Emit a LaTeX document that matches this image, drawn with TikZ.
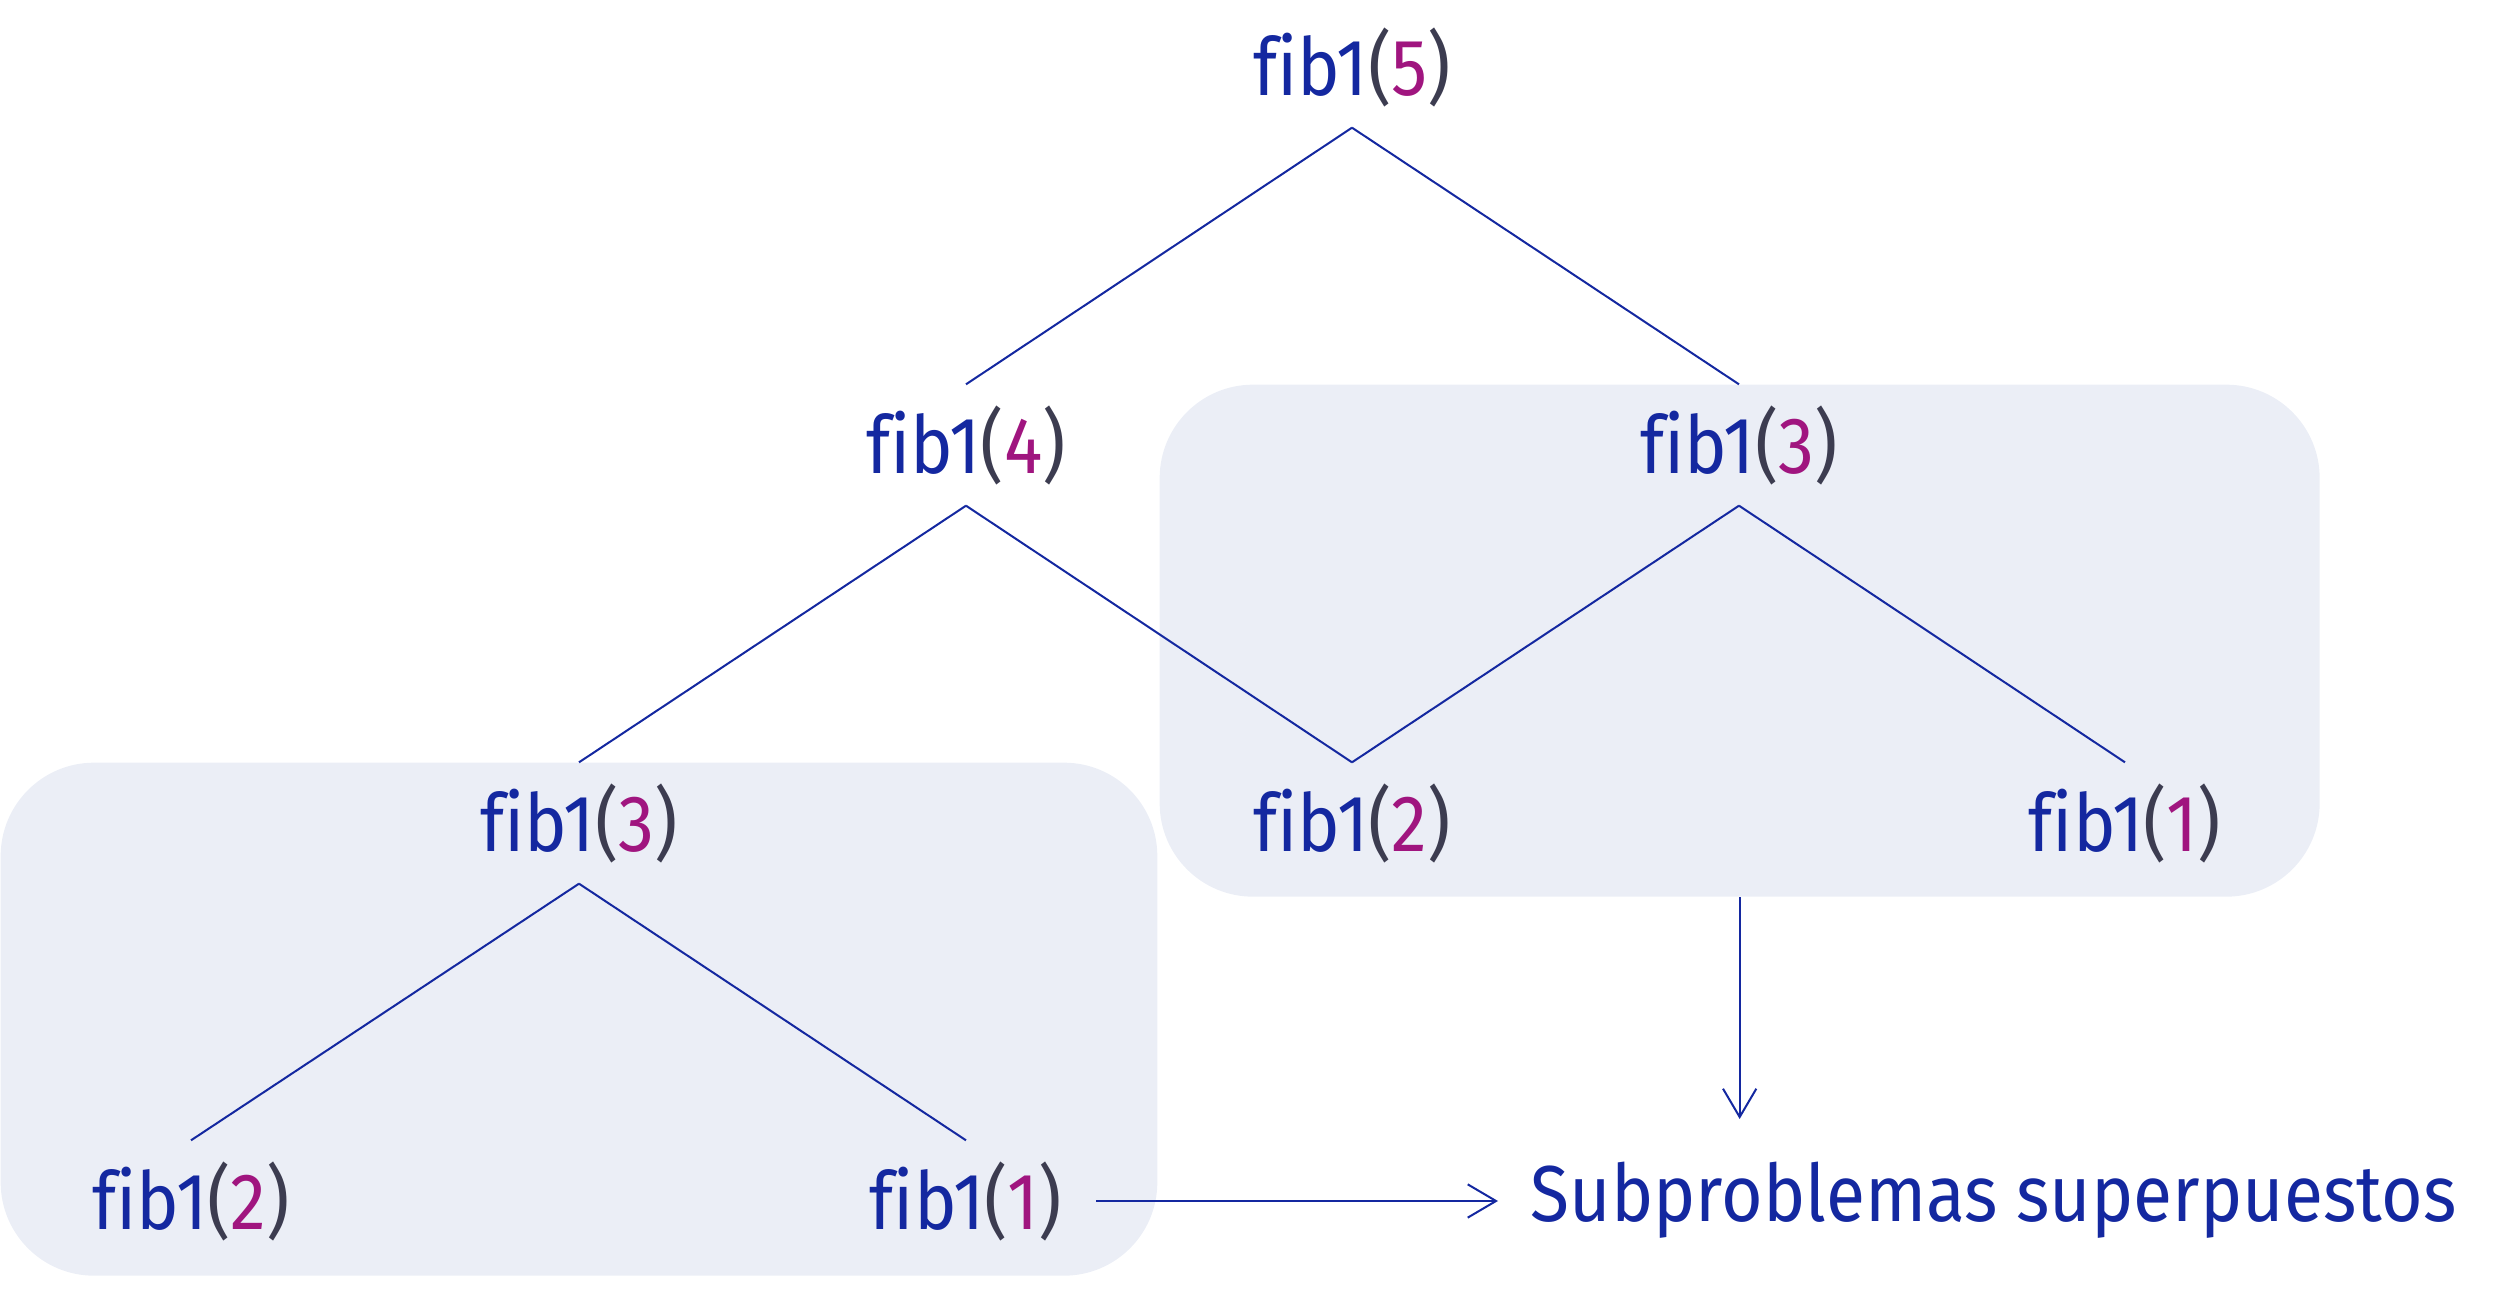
\documentclass[tikz,border=0pt]{standalone}
\usepackage{fontspec}
\setmainfont[FakeStretch=0.9, Ligatures=NoCommon]{Fira Sans}
\usepackage{tikz}
\usetikzlibrary{positioning, arrows.meta}
\definecolor{fibblue}{HTML}{1428A0}
\definecolor{fibarg}{HTML}{A0157F}
\definecolor{fibpar}{HTML}{3C3C50}
\definecolor{grpfill}{HTML}{EBEEF6}
\newcommand{\fibcall}[1]{fib1{\color{fibpar}(}{\color{fibarg}#1}{\color{fibpar})}}

\begin{document}
\begin{tikzpicture}[x=0.3pt, y=-0.3pt]

	\tikzstyle{call}=[text=fibblue, font=\fontsize{24}{28}\selectfont, minimum height=36pt, inner xsep=10pt, inner ysep=0, on grid];
	\tikzstyle{grp}=[fill=grpfill, rounded corners=28pt, inner sep=0, anchor=north west];
	\tikzstyle{link}=[draw=fibblue, line width=0.6pt];

	\useasboundingbox (0,0) rectangle (2499,1289);

	\node (grp r) [grp, minimum width=348pt, minimum height=153.6pt] at (1159,384) {};
	\node (grp l) [grp, minimum width=347pt, minimum height=153.9pt] at (0,762) {};

	\node (call 5) [call] at (1352,67) {\fibcall{5}};
	\node (call 4) [call, below left=113.4pt and 115.8pt of call 5] {\fibcall{4}};
	\node (call 3 r) [call, below right=113.4pt and 116.1pt of call 5] {\fibcall{3}};
	\node (call 3 l) [call, below left=113.4pt and 116.1pt of call 4] {\fibcall{3}};
	\node (call 2 m) [call, below right=113.4pt and 115.8pt of call 4] {\fibcall{2}};
	\node (call 1 r) [call, below right=113.4pt and 115.8pt of call 3 r] {\fibcall{1}};
	\node (call 2 l) [call, below left=113.4pt and 116.4pt of call 3 l] {\fibcall{2}};
	\node (call 1 l) [call, below right=113.4pt and 116.1pt of call 3 l] {\fibcall{1}};

	\node (sub) [call, anchor=west, inner xsep=9.6pt, font=\fontsize{23.8}{28}\selectfont] at (1498,1200) {Subproblemas superpuestos};
	\coordinate (sub top) at (1739,1119);

	\draw [link] (call 5.south) -- (call 4.north);
	\draw [link] (call 5.south) -- (call 3 r.north);
	\draw [link] (call 4.south) -- (call 3 l.north);
	\draw [link] (call 4.south) -- (call 2 m.north);
	\draw [link] (call 3 r.south) -- (call 2 m.north);
	\draw [link] (call 3 r.south) -- (call 1 r.north);
	\draw [link] (call 3 l.south) -- (call 2 l.north);
	\draw [link] (call 3 l.south) -- (call 1 l.north);

	\draw [link, -{Straight Barb[length=8.5pt, width=10pt]}] (grp r.south) -- (grp r.south |- sub top);
	\draw [link, -{Straight Barb[length=8.5pt, width=10pt]}] (call 1 l.east) -- (call 1 l.east -| sub.west);

\end{tikzpicture}
\end{document}
